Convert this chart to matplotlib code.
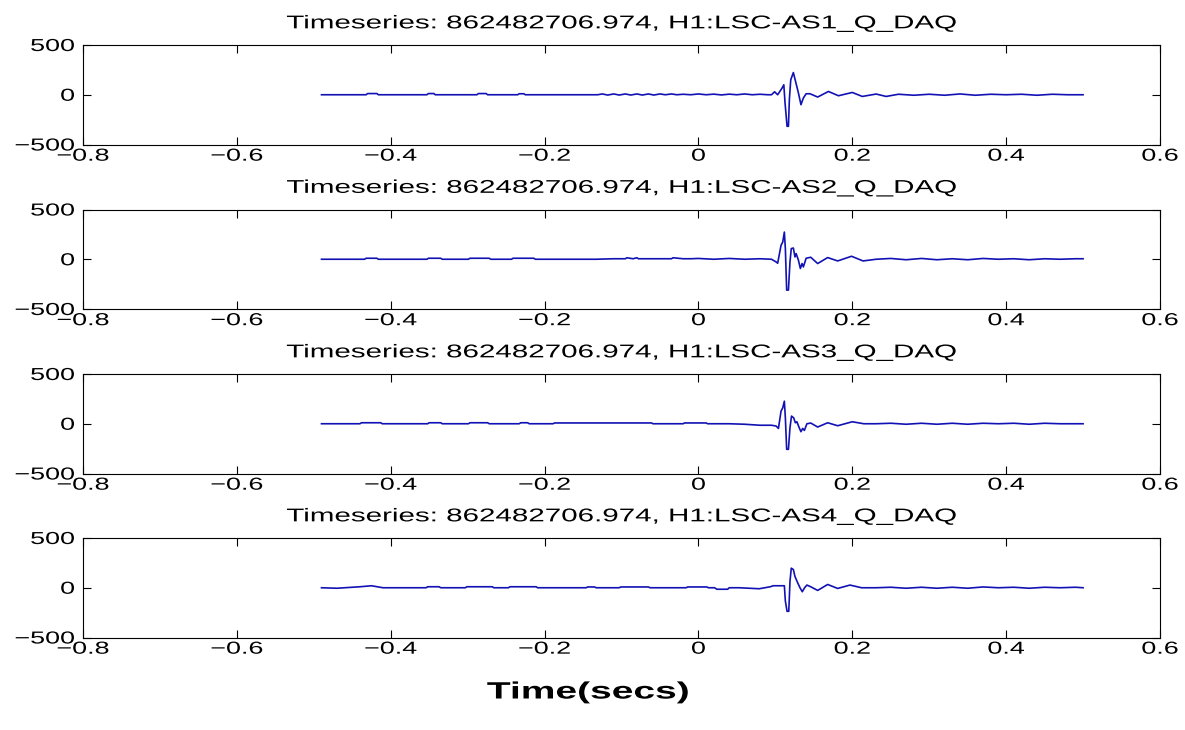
import matplotlib
matplotlib.use("Agg")
import matplotlib.pyplot as plt
from matplotlib import patheffects
from matplotlib.transforms import Affine2D

# ---------------- data ----------------
channels = ["H1:LSC-AS1_Q_DAQ", "H1:LSC-AS2_Q_DAQ", "H1:LSC-AS3_Q_DAQ", "H1:LSC-AS4_Q_DAQ"]
gps_time = "862482706.974"

t1 = [-0.490, -0.432, -0.430, -0.418, -0.416, -0.353, -0.351, -0.344, -0.342,
      -0.288, -0.286, -0.276, -0.274, -0.235, -0.233, -0.227, -0.225,
      -0.131, -0.125, -0.118, -0.110, -0.103, -0.095, -0.088, -0.080, -0.073,
      -0.065, -0.058, -0.050, -0.043, -0.035, -0.028, -0.020, -0.010, 0.000,
      0.010, 0.020, 0.030, 0.040, 0.050, 0.060, 0.070, 0.080, 0.090, 0.095,
      0.099, 0.103, 0.1087, 0.111, 0.1126, 0.1152, 0.1170, 0.1182, 0.120,
      0.1234, 0.1268, 0.130, 0.1333, 0.1364, 0.140, 0.145, 0.155, 0.169,
      0.182, 0.200, 0.213, 0.231, 0.244, 0.260, 0.280, 0.300, 0.320, 0.340,
      0.360, 0.380, 0.400, 0.420, 0.440, 0.460, 0.480, 0.500]
v1 = [0, 0, 12, 12, 0, 0, 12, 12, 0,
      0, 12, 12, 0, 0, 10, 10, 0,
      0, 8, -3, 8, -3, 8, -3, 8, -3,
      8, -3, 8, 0, 8, 0, 5, 0, 8,
      0, 6, -2, 6, 0, 8, 0, 5, 0, 0,
      30, 0, 67, 100, -83, -317, -317, -50, 150,
      223, 117, 17, -100, -33, 10, 10, -23, 33,
      -10, 23, -17, 7, -17, 5, -5, 5, -5, 8,
      -5, 5, 0, 5, -5, 5, 0, 0]

t2 = [-0.490, -0.434, -0.432, -0.418, -0.416, -0.353, -0.351, -0.335, -0.333,
      -0.299, -0.297, -0.272, -0.270, -0.243, -0.241, -0.214, -0.212,
      -0.133, -0.110, -0.095, -0.093, -0.085, -0.080, -0.078, -0.050, -0.035,
      -0.033, -0.020, -0.010, 0.000, 0.020, 0.040, 0.060, 0.080, 0.095,
      0.101, 0.103, 0.1074, 0.1096, 0.1117, 0.113, 0.1147, 0.117, 0.119,
      0.1207, 0.1234, 0.1255, 0.127, 0.130, 0.1325, 0.1347, 0.1364, 0.140,
      0.146, 0.155, 0.168, 0.181, 0.199, 0.214, 0.231, 0.250, 0.270, 0.290,
      0.310, 0.330, 0.350, 0.370, 0.390, 0.410, 0.430, 0.450, 0.470, 0.490, 0.500]
v2 = [0, 0, 10, 10, 0, 0, 10, 10, 0,
      0, 10, 10, 0, 0, 10, 10, 0,
      0, 5, 5, 15, 5, 15, 5, 5, 5,
      15, 5, 5, 8, 0, 8, 0, 5, 0,
      -27, -40, 140, 173, 273, 107, -310, -310, -27,
      107, 113, 23, 57, -10, -93, -43, -77, 10,
      20, -43, 17, -17, 30, -17, 0, 8, -5, 8,
      -5, 5, -5, 8, 0, 5, -5, 5, 0, 5, 5]

t3 = [-0.490, -0.440, -0.438, -0.413, -0.411, -0.352, -0.350, -0.335, -0.333,
      -0.299, -0.297, -0.274, -0.272, -0.233, -0.231, -0.222, -0.220,
      -0.189, -0.187, -0.061, -0.059, -0.020, -0.018, 0.010, 0.012, 0.040,
      0.060, 0.080, 0.095, 0.101, 0.104, 0.1074, 0.1096, 0.1117, 0.113,
      0.1147, 0.117, 0.119, 0.121, 0.1238, 0.126, 0.128, 0.131, 0.1333,
      0.1355, 0.1377, 0.141, 0.146, 0.155, 0.168, 0.181, 0.200, 0.215,
      0.231, 0.250, 0.270, 0.290, 0.310, 0.330, 0.350, 0.370, 0.390, 0.410,
      0.430, 0.450, 0.470, 0.490, 0.500]
v3 = [0, 0, 10, 10, 0, 0, 10, 10, 0,
      0, 10, 10, 0, 0, 10, 10, 0,
      0, 8, 8, 0, 0, 8, 8, 0, 0,
      -5, -15, -15, -23, -47, 127, 160, 227, 60,
      -257, -257, -40, 77, 60, 10, 20, -40, -80,
      -47, -67, 0, 7, -33, 10, -20, 20, 0,
      0, 5, -5, 5, -5, 5, -5, 5, 0, 5,
      -5, 5, 0, 0, 0]

t4 = [-0.490, -0.470, -0.440, -0.425, -0.410, -0.354, -0.352, -0.337, -0.335,
      -0.303, -0.301, -0.268, -0.266, -0.247, -0.245, -0.211, -0.209,
      -0.146, -0.144, -0.135, -0.133, -0.103, -0.101, -0.065, -0.063, -0.016,
      -0.014, 0.011, 0.013, 0.021, 0.024, 0.038, 0.040, 0.053, 0.079,
      0.0935, 0.097, 0.1117, 0.113, 0.1152, 0.1174, 0.118, 0.119, 0.1207,
      0.1234, 0.1255, 0.129, 0.132, 0.135, 0.138, 0.141, 0.146, 0.155,
      0.168, 0.181, 0.197, 0.212, 0.231, 0.250, 0.270, 0.290, 0.310, 0.330,
      0.350, 0.370, 0.390, 0.410, 0.430, 0.450, 0.470, 0.490, 0.500]
v4 = [0, -5, 10, 20, 0, 0, 10, 10, 0,
      0, 10, 10, 0, 0, 10, 10, 0,
      0, 8, 8, 0, 0, 8, 8, 0, 0,
      8, 8, 0, 0, -15, -15, 0, 0, -10,
      10, 20, 20, -133, -237, -237, -133, 63, 197,
      183, 113, 50, 0, -40, 0, 27, 10, -27,
      33, -7, 27, 0, 0, 5, -5, 5, -5, 5,
      -5, 8, 0, 5, -5, 5, 0, 5, 0]

series_t = [t1, t2, t3, t4]
series_v = [v1, v2, v3, v4]

xticks = [-0.8, -0.6, -0.4, -0.2, 0, 0.2, 0.4, 0.6]
xticklabels = ["\u22120.8", "\u22120.6", "\u22120.4", "\u22120.2", "0", "0.2", "0.4", "0.6"]
yticks = [-500, 0, 500]
yticklabels = ["\u2212500", "0", "500"]


# ------------- horizontal stretch for text (reference text is wide) -------------
class Stretch(patheffects.AbstractPathEffect):
    def __init__(self, sx, anchor="center"):
        super().__init__()
        self.sx = sx
        self.anchor = anchor

    def draw_path(self, renderer, gc, tpath, affine, rgbFace=None):
        ext = tpath.get_extents()
        if self.anchor == "right":
            cx = ext.x1
        elif self.anchor == "left":
            cx = ext.x0
        else:
            cx = 0.5 * (ext.x0 + ext.x1)
        tr = Affine2D().translate(-cx, 0).scale(self.sx, 1).translate(cx, 0) + affine
        renderer.draw_path(gc, tpath, tr, rgbFace)


SX = 1.55
plt.rcParams["font.family"] = ["Liberation Sans", "DejaVu Sans"]

fig = plt.figure(figsize=(11.85, 7.30), dpi=100)
W, H = 1185.0, 730.0
left_px, right_px = 83, 1160
tops = [45, 209.5, 374, 538]
height_px = 99.5

for i in range(4):
    top = tops[i]
    ax = fig.add_axes([left_px / W, 1 - (top + height_px) / H,
                       (right_px - left_px) / W, height_px / H])
    ax.plot(series_t[i], series_v[i], color="#1212b4", lw=1.2)
    ax.set_xlim(-0.8, 0.6)
    ax.set_ylim(-500, 500)
    ax.set_xticks(xticks)
    ax.set_xticklabels(xticklabels)
    ax.set_yticks(yticks)
    ax.set_yticklabels(yticklabels)
    ax.tick_params(direction="in", length=6, width=0.8, top=True, right=True,
                   labelsize=12.5, colors="black")
    ax.tick_params(axis="x", pad=3)
    ax.tick_params(axis="y", pad=6)
    for sp in ax.spines.values():
        sp.set_linewidth(0.8)
        sp.set_color("black")
    for lab in ax.get_xticklabels():
        lab.set_path_effects([Stretch(SX, "center")])
    for lab in ax.get_yticklabels():
        lab.set_path_effects([Stretch(SX, "right")])
    title = ax.set_title("Timeseries: %s, %s" % (gps_time, channels[i]),
                         fontsize=13.3, pad=12)
    title.set_path_effects([Stretch(1.6, "center")])

xl = fig.text(588 / W, 1 - 692 / H, "Time(secs)", ha="center", va="center",
              fontsize=17, fontweight="bold")
xl.set_path_effects([Stretch(1.65, "center")])

fig.savefig("out.png", dpi=100, facecolor="white")
